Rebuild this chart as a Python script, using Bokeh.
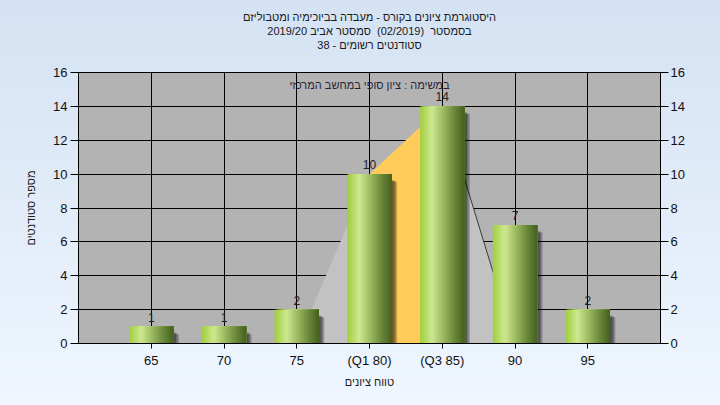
from bokeh.plotting import figure
from bokeh.models import (FactorRange, Range1d, LinearAxis, Title, Label, ColumnDataSource,
                          FixedTicker, GlobalInlineStyleSheet)
from bokeh.transform import dodge
from bokeh.core.properties import value
from bokeh.embed import file_html
from bokeh.resources import INLINE

# ---- data ----
title_lines = [
    "היסטוגרמת ציונים בקורס - מעבדה בביוכימיה ומטבוליזם",
    "בסמסטר \u00a0(02/2019) \u00a0סמסטר אביב 2019/20",
    "סטודנטים רשומים - 38",
]
categories = ["65", "70", "75", "(Q1 80)", "(Q3 85)", "90", "95"]
counts = [1, 1, 2, 10, 14, 7, 2]
y_ticks = [0, 2, 4, 6, 8, 10, 12, 14, 16]
x_label = "טווח ציונים"
y_label = "מספר סטודנטים"
note_text = "במשימה : ציון סופי במחשב המרכזי"
area_x = ["75", "(Q1 80)", "(Q3 85)", "90"]
area_y = [0, 10, 14, 0]
quart_x = ["(Q1 80)", "(Q1 80)", "(Q3 85)", "(Q3 85)"]
quart_y = [0, 10, 14, 0]
edge_x = ["(Q3 85)", "90"]
edge_y = [14, 0]

FONT = "Liberation Sans, Arial, DejaVu Sans, sans-serif"

src = ColumnDataSource(dict(cat=categories, count=counts,
                            label=[str(c) for c in counts]))

p = figure(width=720, height=405, output_backend="svg", toolbar_location=None,
           x_range=FactorRange(factors=categories, range_padding=0.5,
                               range_padding_units="absolute"),
           y_range=Range1d(0, 16), title=None,
           min_border_left=78, min_border_right=60, min_border_top=72,
           min_border_bottom=62)
p.stylesheets = [GlobalInlineStyleSheet(
    css="html, body { margin: 0; padding: 0; overflow: hidden; "
        "background: linear-gradient(to bottom, #D4E2F3, #EFF6FE) fixed; }")]
p.border_fill_color = None
p.background_fill_color = "#B3B3B3"
p.outline_line_color = "black"

# titles (first added sits closest to the frame): spacer, then lines bottom-up
p.add_layout(Title(text="\u00a0", align="center", text_font=FONT, text_font_size="18px",
                   standoff=0), "above")
for t in reversed(title_lines):
    p.add_layout(Title(text=t, align="center", text_font=FONT, text_font_size="11px",
                       text_font_style="normal", text_color="#1a1a1a",
                       standoff=0), "above")

# grid
p.xgrid.grid_line_color = "black"
p.ygrid.grid_line_color = "black"
p.ygrid.ticker = FixedTicker(ticks=y_ticks)

# axes
p.yaxis.ticker = FixedTicker(ticks=y_ticks)
p.yaxis.axis_label = y_label
for ax in [p.xaxis[0], p.yaxis[0]]:
    ax.axis_line_color = "black"
    ax.major_tick_line_color = "black"
    ax.minor_tick_line_color = None
    ax.major_label_text_font = FONT
    ax.major_label_text_font_size = "13px"
    ax.major_label_text_color = "#111111"
    ax.axis_label_text_font = FONT
    ax.axis_label_text_font_size = "11px"
    ax.axis_label_text_font_style = "normal"
    ax.axis_label_text_color = "#1a1a1a"
p.yaxis.major_tick_out = 8
p.yaxis.major_tick_in = 0
p.yaxis.major_label_standoff = 3
p.yaxis.axis_label_standoff = 13
p.xaxis.axis_label = x_label
p.xaxis.major_tick_out = 5
p.xaxis.major_tick_in = 0
p.xaxis.major_label_standoff = 4
p.xaxis.axis_label_standoff = 5

right = LinearAxis(ticker=FixedTicker(ticks=y_ticks))
right.axis_line_color = "black"
right.major_tick_line_color = "black"
right.minor_tick_line_color = None
right.major_tick_out = 8
right.major_tick_in = 0
right.major_label_standoff = 2
right.major_label_text_font = FONT
right.major_label_text_font_size = "13px"
right.major_label_text_color = "#111111"
p.add_layout(right, "right")

# background area (distribution shape) and quartile band
p.patch(x=area_x, y=area_y, fill_color="#C2C2C2", line_color=None)
p.patch(x=quart_x, y=quart_y, fill_color="#FFCB5A", line_color=None)
p.line(x=edge_x, y=edge_y, line_color="#3a3a3a", line_width=1)

# bars: shadow
BW = 0.61
for k, (dx, a) in enumerate([(0.035, 0.24), (0.055, 0.24), (0.075, 0.22)]):
    p.vbar(x=dodge("cat", dx, range=p.x_range), top=dodge("count", -0.35 - 0.05 * k),
           bottom=0, width=BW, fill_color="black", fill_alpha=a, line_color=None, source=src)

# bars: cylinder gradient made of nested right-anchored strips
stops = [(0.0, (160, 206, 60)), (0.27, (206, 232, 145)), (0.5, (160, 190, 100)),
         (0.75, (110, 140, 62)), (1.0, (68, 96, 28))]


def grad(t):
    for (t0, c0), (t1, c1) in zip(stops[:-1], stops[1:]):
        if t0 <= t <= t1:
            f = (t - t0) / (t1 - t0)
            return "#%02x%02x%02x" % tuple(int(round(a + (b - a) * f)) for a, b in zip(c0, c1))
    return "#%02x%02x%02x" % stops[-1][1]


N = 30
sw = BW / N
for i in range(N):
    t = (i + 0.5) / N
    w = BW - i * sw
    off = BW / 2 - w / 2
    p.vbar(x=dodge("cat", off, range=p.x_range), top="count", bottom=0,
           width=w, fill_color=grad(t), line_color=None, source=src)

# value labels
p.text(x="cat", y="count", text="label", source=src, text_align="center",
       text_baseline="bottom", y_offset=-5, text_font=value(FONT),
       text_font_size="12px", text_color="#222222")

# note
p.add_layout(Label(x=3.5, y=15.25, text=note_text, text_align="center",
                   text_baseline="middle", text_font=FONT, text_font_size="11px",
                   text_color="#2a1f3a"))

open("out.html", "w").write(file_html(p, INLINE))
